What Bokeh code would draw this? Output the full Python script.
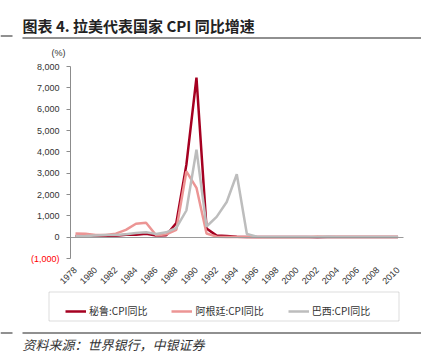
import math
from bokeh.plotting import figure
from bokeh.models import (Range1d, FixedTicker, NumeralTickFormatter, Label, LinearAxis,
                          Legend, LegendItem, BoxAnnotation)
from bokeh.embed import file_html
from bokeh.resources import INLINE

# ---- data ----
years = list(range(1978, 2011))
peru = [58, 67, 59, 75, 64, 111, 110, 163, 78, 86, 667, 3399, 7481, 409, 73, 49,
        24, 11, 12, 9, 7, 3, 4, 2, 0, 2, 4, 2, 2, 2, 6, 3, 2]
argentina = [176, 160, 101, 105, 165, 344, 627, 672, 90, 131, 343, 3080, 2314, 172,
             25, 11, 4, 3, 0, 1, 1, -1, -1, -1, 26, 13, 4, 10, 11, 9, 9, 6, 10]
brazil = [39, 53, 83, 106, 98, 142, 197, 226, 147, 228, 430, 1250, 4100, 500, 950,
          1650, 2950, 150, 16, 7, 3, 5, 7, 7, 8, 15, 7, 7, 4, 4, 6, 5, 5]
series_names = ["秘鲁:CPI同比", "阿根廷:CPI同比", "巴西:CPI同比"]
series_colors = ["#A50021", "#EC9594", "#BDBDBD"]
y_ticks = list(range(-1000, 8001, 1000))
x_ticks = list(range(1978, 2011, 2))

CJK = "Noto Sans CJK SC"
LAT = "Liberation Sans"

# ---- layout (canvas pixels) ----
W, H = 421, 356
X0_PX, PX_PER_YEAR = 75, 10.08          # first year position, spacing
YTOP_PX, YBOT_PX = 66, 258               # pixel rows of 8000 and -1000
ymin, ymax = -1000, 8000
ppu = (YBOT_PX - YTOP_PX) / (ymax - ymin)
x_start = years[0] - X0_PX / PX_PER_YEAR
x_end = x_start + W / PX_PER_YEAR
y_start = ymin - (H - YBOT_PX) / ppu
y_end = ymax + YTOP_PX / ppu
axis_x = years[0] - 0.5
axis_x_end = years[-1] + 0.5

p = figure(width=W, height=H, output_backend="svg", toolbar_location=None,
           x_range=Range1d(x_start, x_end), y_range=Range1d(y_start, y_end),
           x_axis_type=None, y_axis_type=None, min_border=0,
           min_border_left=0, min_border_right=0, min_border_top=0, min_border_bottom=0)
p.outline_line_color = None
p.background_fill_color = "white"
p.border_fill_color = "white"

# y axis at the left of the data
yax = LinearAxis(fixed_location=axis_x, bounds=(ymin, ymax),
                 ticker=FixedTicker(ticks=y_ticks),
                 formatter=NumeralTickFormatter(format="0,0"),
                 major_label_overrides={-1000: ""},
                 axis_line_color="#8C8C8C", major_tick_line_color="#8C8C8C",
                 major_tick_out=4, major_tick_in=0, minor_tick_line_color=None,
                 major_label_standoff=7, major_label_text_font=LAT,
                 major_label_text_font_size="9px", major_label_text_color="#333333")
p.add_layout(yax, "left")

# category labels below the -1000 line
xax = LinearAxis(fixed_location=ymin, ticker=FixedTicker(ticks=x_ticks),
                 axis_line_color=None, major_tick_line_color=None,
                 minor_tick_line_color=None, major_label_orientation=math.pi / 4,
                 major_label_standoff=4, major_label_text_font=LAT,
                 major_label_text_font_size="9px", major_label_text_color="#333333")
p.add_layout(xax, "below")

# zero line
zax = LinearAxis(fixed_location=0, bounds=(axis_x, axis_x_end),
                 ticker=FixedTicker(ticks=[]), axis_line_color="#9A9A9A",
                 major_tick_line_color=None, minor_tick_line_color=None,
                 major_label_text_font_size="0px")
p.add_layout(zax, "below")

renderers = []
for vals, color in zip([peru, argentina, brazil], series_colors):
    r = p.line(years, vals, line_color=color, line_width=2.5)
    renderers.append(r)

legend = Legend(items=[LegendItem(label=n, renderers=[r]) for n, r in zip(series_names, renderers)],
                orientation="horizontal", location=(65, 38), padding=6, margin=0,
                spacing=24, glyph_width=21, glyph_height=12, label_height=12,
                label_standoff=3, label_text_font=CJK, label_text_font_size="10px",
                label_text_color="#333333", border_line_color=None,
                background_fill_alpha=0)
p.add_layout(legend, "center")

def sbox(left, right, top, bottom, **kw):
    return BoxAnnotation(left=left, right=right, top=top, bottom=bottom,
                         left_units="screen", right_units="screen",
                         top_units="screen", bottom_units="screen", **kw)

# legend frame
p.add_layout(sbox(48.5, 398.5, H - 291.5, H - 320.5, fill_alpha=0,
                  line_color="#8C8C8C", line_width=1))
# rules under the title and above the source
p.add_layout(sbox(22, W, H - 37, H - 38, fill_color="#222222", fill_alpha=1, line_color=None))
p.add_layout(sbox(0, 12, H - 35, H - 36, fill_color="#222222", fill_alpha=1, line_color=None))
p.add_layout(sbox(22, W, H - 332, H - 333, fill_color="#222222", fill_alpha=1, line_color=None))
p.add_layout(sbox(0, 12, H - 332, H - 333, fill_color="#222222", fill_alpha=1, line_color=None))

# texts
p.add_layout(Label(x=22, y=H - 25, x_units="screen", y_units="screen",
                   text="图表 4. 拉美代表国家 CPI 同比增速", text_font=CJK,
                   text_font_style="bold", text_font_size="15px", text_color="#222222",
                   text_baseline="middle", text_align="left"))
p.add_layout(Label(x=axis_x, y=ymax, x_offset=-12, y_offset=14, text="(%)",
                   text_font=LAT, text_font_size="9px", text_color="#333333",
                   text_baseline="middle", text_align="center"))
p.add_layout(Label(x=axis_x, y=ymin, x_offset=-11, text="(1,000)",
                   text_font=LAT, text_font_size="9px", text_color="#FF0000",
                   text_baseline="middle", text_align="right"))
p.add_layout(Label(x=22, y=H - 343.5, x_units="screen", y_units="screen",
                   text="资料来源：世界银行，中银证券", text_font=CJK,
                   text_font_style="italic", text_font_size="13px", text_color="#333333",
                   text_baseline="middle", text_align="left"))

open("out.html", "w").write(file_html(p, INLINE))
